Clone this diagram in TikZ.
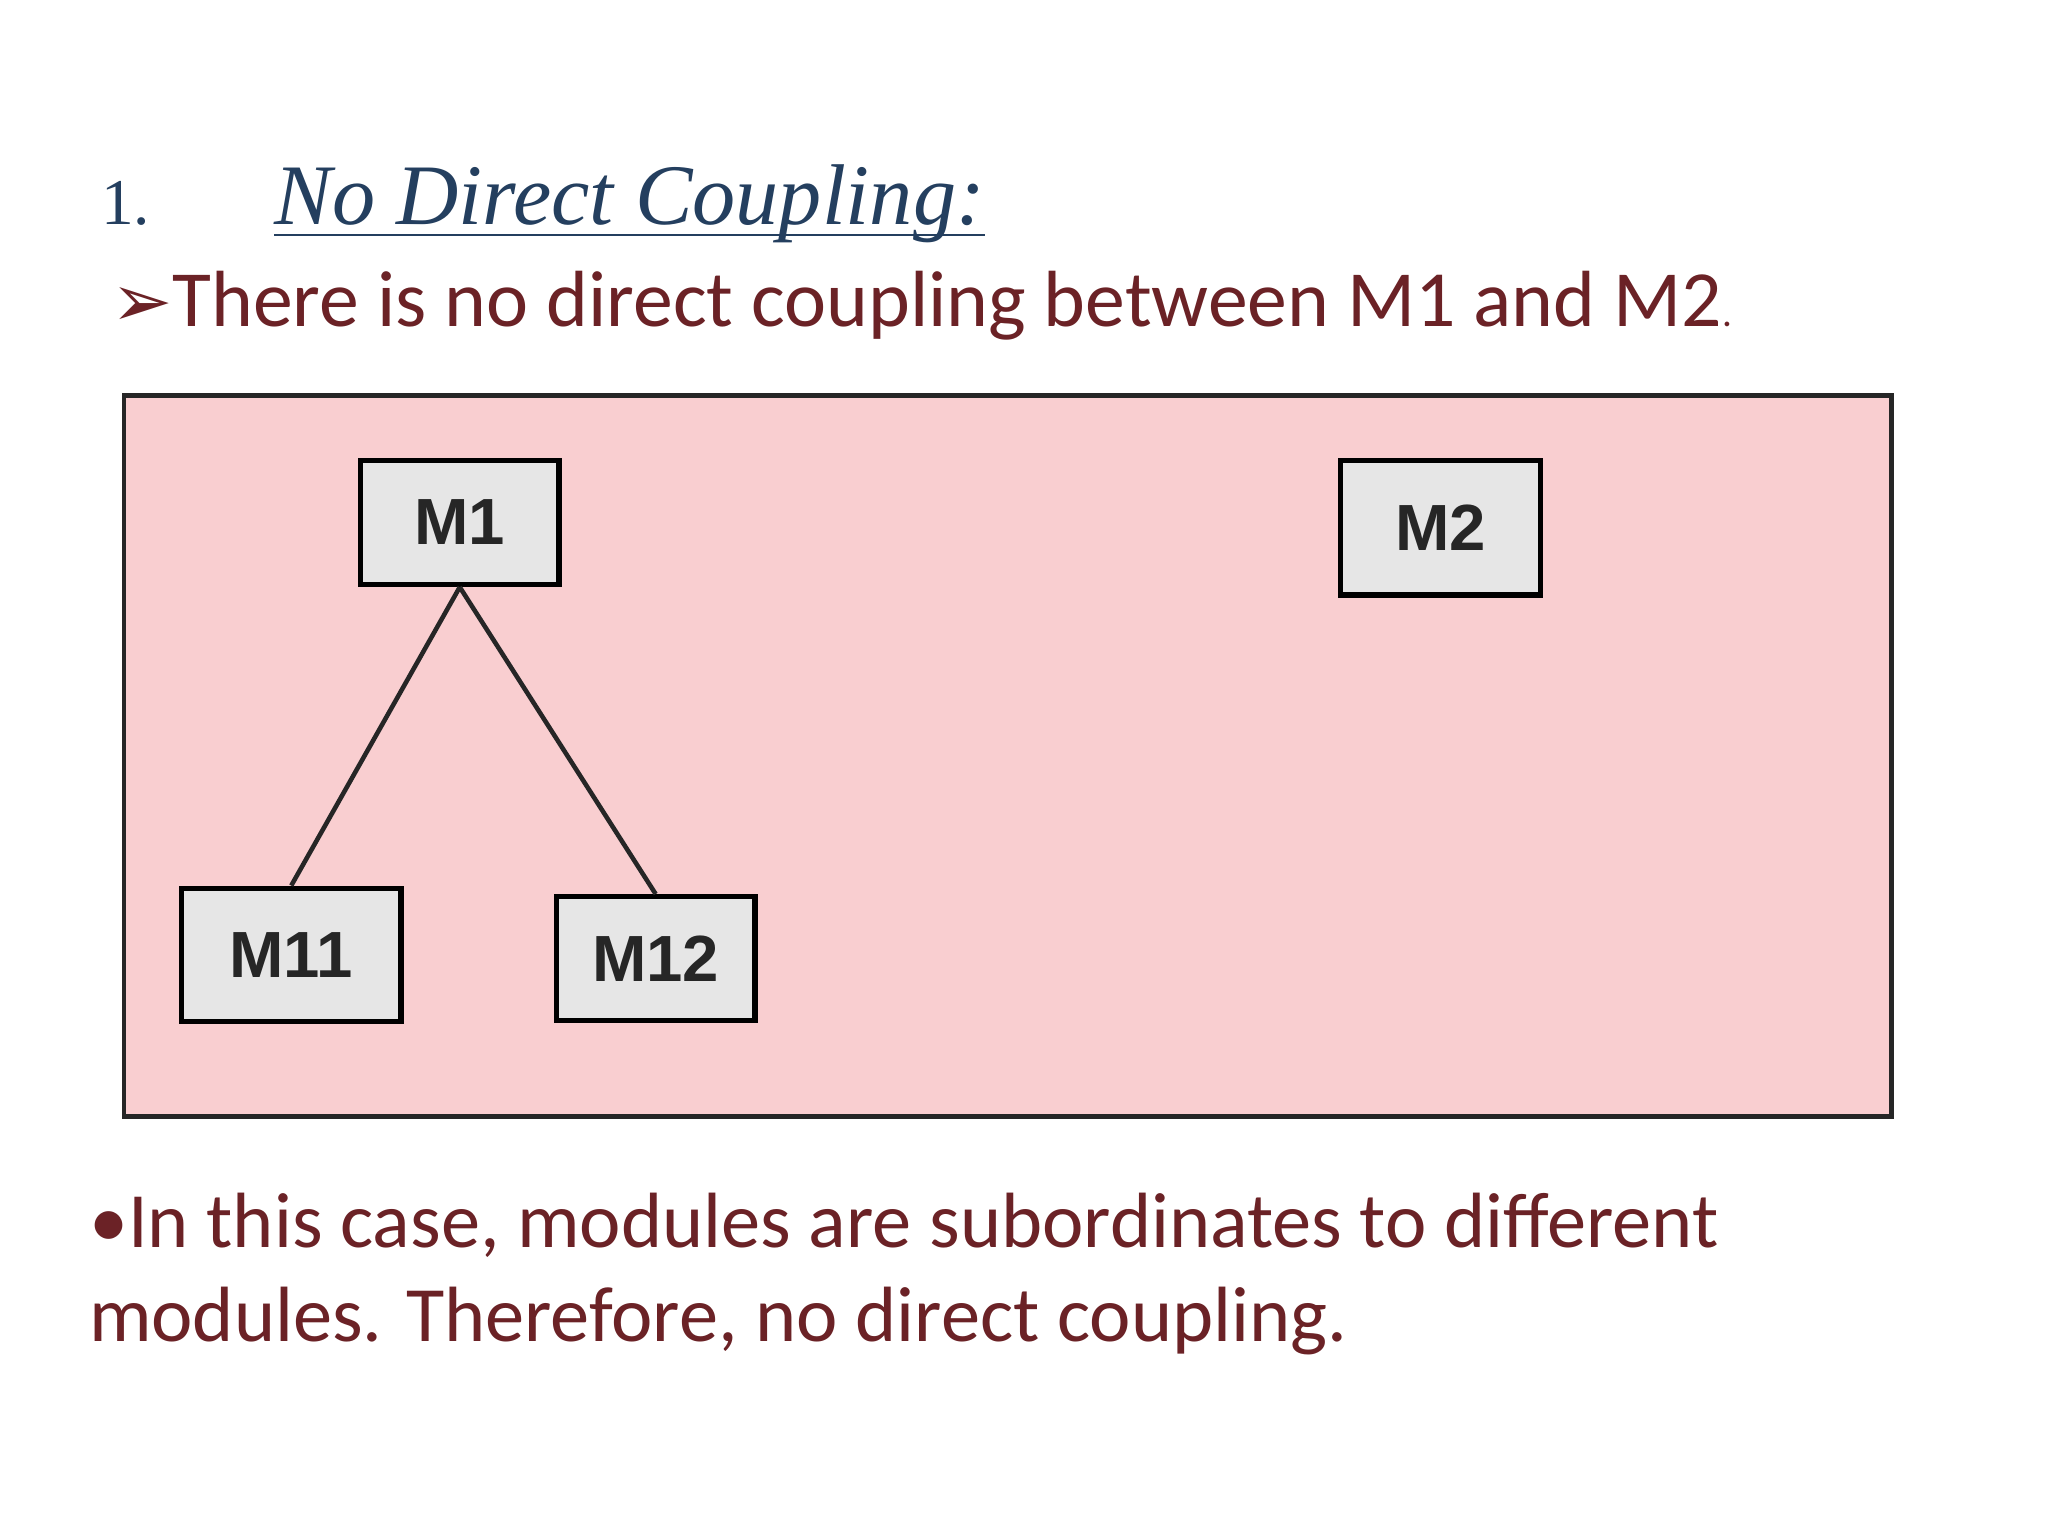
\documentclass[tikz,border=0pt]{standalone}
\usepackage{fontspec}
\setmainfont{Carlito}
\newfontfamily\titlefont{Liberation Serif}
\newfontfamily\boxfont{Liberation Sans}
\newfontfamily\symfont{DejaVu Sans}
\definecolor{txtred}{HTML}{6B2226}
\definecolor{ttlblue}{HTML}{243F5F}
\definecolor{panel}{HTML}{F9CED0}
\definecolor{boxgray}{HTML}{E6E6E6}
\begin{document}
\begin{tikzpicture}[x=1pt,y=-1pt,
  modbox/.style={draw=black,line width=4pt,fill=boxgray,minimum width=152pt,inner sep=0pt,font=\boxfont\bfseries\fontsize{50}{50}\selectfont,text=black!85},
  link/.style={line width=3.5pt,draw=black!85}]
\useasboundingbox (0,0) rectangle (1568,1176);
\fill[white] (0,0) rectangle (1568,1176);
\node[anchor=base west,text=ttlblue,font=\titlefont\fontsize{50}{50}\selectfont] (num) at (74,172) {1.};
\node[anchor=base west,text=ttlblue,font=\titlefont\itshape\fontsize{66}{66}\selectfont,inner sep=0pt] (title) at (210,172) {No Direct Coupling:};
\draw[ttlblue,line width=2pt] (title.base west)+(0,8) coordinate (u1) -- (title.base east|-u1);
\node[anchor=base west,text=txtred,font=\fontsize{61}{61}\selectfont,inner sep=0pt] (l1) at (85,250) {{\symfont\fontsize{56}{56}\selectfont ➢}There is no direct coupling between M1 and M2{\fontsize{30}{30}\selectfont.}};
\draw[fill=panel,draw=black!85,line width=3.5pt] (95,303) rectangle (1448,855);
\node[modbox,minimum height=95pt] (m1) at (352,400) {M1};
\node[modbox,minimum height=103pt,minimum width=153pt] (m2) at (1103,404) {M2};
\node[modbox,minimum height=102pt,minimum width=168pt] (m11) at (223,731) {M11};
\node[modbox,minimum height=95pt] (m12) at (502,734) {M12};
\draw[link] (m1.south) -- (m11.north);
\draw[link] (m1.south) -- (m12.north);
\node[anchor=base west,text=txtred,font=\fontsize{60}{60}\selectfont,inner sep=0pt] (l2a) at (68,955) {•In this case, modules are subordinates to different};
\node[anchor=base west,text=txtred,font=\fontsize{60}{60}\selectfont,inner sep=0pt] (l2b) at (68,1027) {modules. Therefore, no direct coupling.};
\end{tikzpicture}
\end{document}
